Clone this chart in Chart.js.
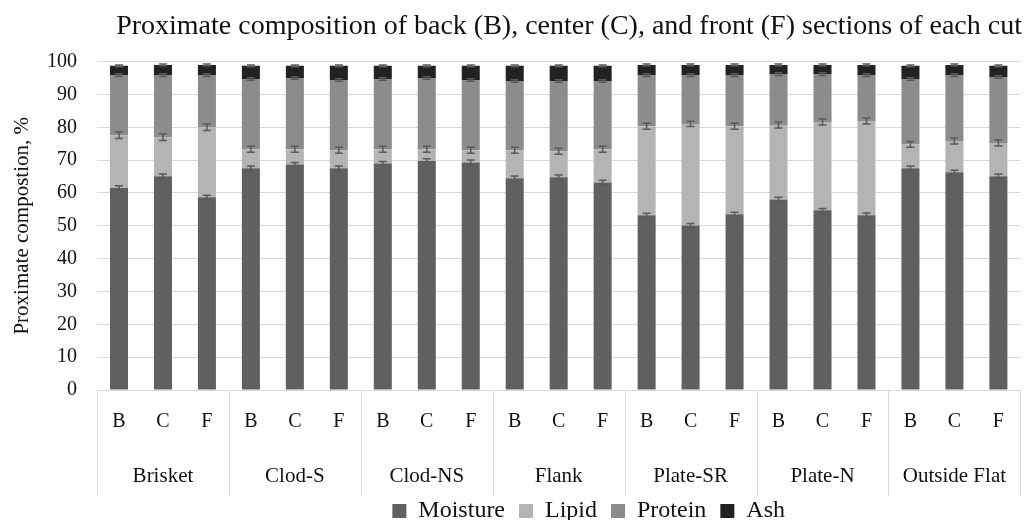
<!DOCTYPE html>
<html>
<head>
<meta charset="utf-8">
<script src="https://cdn.jsdelivr.net/npm/chart.js@4/dist/chart.umd.min.js"></script>
<style>
html,body{margin:0;padding:0;background:#fff;}
#wrap{width:1024px;height:520px;}
</style>
</head>
<body>
<div id="wrap"><canvas id="c"></canvas></div>
<script>
const sections = ['B','C','F','B','C','F','B','C','F','B','C','F','B','C','F','B','C','F','B','C','F'];
const cuts = ['Brisket','Clod-S','Clod-NS','Flank','Plate-SR','Plate-N','Outside Flat'];
const yTicks = [0,10,20,30,40,50,60,70,80,90,100];

const moisture = [61.5,65.1,58.7, 67.5,68.7,67.5, 69.0,69.7,69.3, 64.5,64.8,63.2, 53.2,50.1,53.5, 58.0,54.7,53.2, 67.5,66.3,65.1];
const lipid    = [16.1,11.9,21.3, 5.8,4.6,5.5, 4.3,3.6,3.7, 8.5,7.9,10.1, 27.1,30.9,26.8, 22.7,26.9,28.7, 7.3,9.5,10.1];
const protein  = [18.3,18.9,15.9, 21.4,21.7,21.4, 21.4,21.7,21.4, 21.1,21.4,20.8, 15.6,14.9,15.6, 15.5,14.6,14.0, 19.9,20.1,20.1];
const ash      = [2.8,3.1,3.1, 4.0,3.7,4.3, 4.0,3.7,4.3, 4.6,4.6,4.6, 3.1,3.1,3.1, 2.8,2.8,3.1, 4.0,3.1,3.4];

const moistureErr = [0.7,0.7,0.6, 0.7,0.6,0.7, 0.6,0.7,0.7, 0.7,0.7,0.7, 0.6,0.6,0.6, 0.7,0.6,0.7, 0.7,0.6,0.7];
const lipidErr    = [1.0,1.0,1.0, 0.9,0.9,0.9, 0.9,0.9,0.9, 0.9,0.9,0.9, 0.9,0.8,0.9, 0.9,0.9,0.9, 0.9,0.9,0.9];
const proteinErr  = [0.4,0.4,0.4, 0.4,0.4,0.4, 0.4,0.4,0.4, 0.4,0.4,0.4, 0.4,0.4,0.4, 0.4,0.4,0.4, 0.4,0.4,0.4];
const ashErr      = [0.3,0.3,0.3, 0.3,0.3,0.3, 0.3,0.3,0.3, 0.3,0.3,0.3, 0.3,0.3,0.3, 0.3,0.3,0.3, 0.3,0.3,0.3];

const seriesNames = ['Moisture','Lipid','Protein','Ash'];
const seriesColors = ['#606060','#b4b4b4','#8c8c8c','#222222'];
const seriesData = [moisture, lipid, protein, ash];
const seriesErr = [moistureErr, lipidErr, proteinErr, ashErr];

const SERIF = '"Liberation Serif", "Times New Roman", serif';

const errorBars = {
  id: 'errorBars',
  afterDatasetsDraw(chart) {
    const ctx = chart.ctx;
    const y = chart.scales.y;
    ctx.save();
    ctx.strokeStyle = '#5a5a5a';
    ctx.lineWidth = 1.5;
    const cum = new Array(sections.length).fill(0);
    seriesData.forEach((arr, si) => {
      const meta = chart.getDatasetMeta(si);
      arr.forEach((v, j) => {
        cum[j] += v;
        const x = meta.data[j].x;
        const e = seriesErr[si][j];
        const y1 = y.getPixelForValue(cum[j] + e);
        const y2 = y.getPixelForValue(cum[j] - e);
        ctx.beginPath();
        ctx.moveTo(x, y1); ctx.lineTo(x, y2);
        ctx.moveTo(x - 4, y1); ctx.lineTo(x + 4, y1);
        ctx.moveTo(x - 4, y2); ctx.lineTo(x + 4, y2);
        ctx.stroke();
      });
    });
    ctx.restore();
  }
};

const groupAxis = {
  id: 'groupAxis',
  afterDraw(chart) {
    const ctx = chart.ctx;
    const xs = chart.scales.x;
    const area = chart.chartArea;
    const n = sections.length;
    const w = (xs.right - xs.left) / n;
    ctx.save();
    ctx.strokeStyle = '#d9d9d9';
    ctx.lineWidth = 1;
    for (let g = 0; g <= cuts.length; g++) {
      const xx = Math.round(xs.left + g * 3 * w) + 0.5;
      ctx.beginPath();
      ctx.moveTo(xx, area.bottom);
      ctx.lineTo(xx, area.bottom + 106);
      ctx.stroke();
    }
    ctx.fillStyle = '#111';
    ctx.font = '21px ' + SERIF;
    ctx.textAlign = 'center';
    ctx.textBaseline = 'middle';
    cuts.forEach((c, g) => {
      const cx = (xs.getPixelForValue(g * 3) + xs.getPixelForValue(g * 3 + 2)) / 2;
      ctx.fillText(c, cx, area.bottom + 86);
    });
    ctx.restore();
  }
};

const legendShift = {
  id: 'legendShift',
  afterLayout(chart) {
    const lg = chart.legend;
    if (lg) {
      lg.left += 30; lg.right += 30;
      const dy = 485 - lg.top;
      lg.top += dy; lg.bottom += dy;
    }
  }
};

new Chart(document.getElementById('c'), {
  type: 'bar',
  data: {
    labels: sections,
    datasets: seriesNames.map((name, i) => ({
      label: name,
      data: seriesData[i],
      backgroundColor: seriesColors[i],
      borderWidth: 0,
      barPercentage: 0.41,
      categoryPercentage: 1.0
    }))
  },
  options: {
    responsive: true,
    maintainAspectRatio: false,
    animation: false,
    layout: { padding: { left: 0, right: 2, top: 0, bottom: 0 } },
    plugins: {
      title: {
        display: true,
        text: 'Proximate composition of back (B), center (C), and front (F) sections of each cut',
        color: '#111',
        font: { family: SERIF, size: 28, weight: 'normal' },
        padding: { top: 10, bottom: 18 },
        align: 'end'
      },
      legend: {
        position: 'bottom',
        fullSize: false,
        labels: {
          color: '#111',
          font: { family: SERIF, size: 24 },
          boxWidth: 14,
          boxHeight: 14,
          padding: 14
        }
      },
      tooltip: { enabled: false }
    },
    scales: {
      x: {
        stacked: true,
        grid: { display: false, drawTicks: false },
        border: { display: true, color: '#d9d9d9', width: 1 },
        ticks: {
          color: '#111',
          font: { family: SERIF, size: 20 },
          padding: 20,
          maxRotation: 0,
          autoSkip: false
        },
        afterFit(s) { s.height = 82; }
      },
      y: {
        stacked: true,
        min: 0,
        max: 100,
        afterBuildTicks(s) { s.ticks = yTicks.map(v => ({ value: v })); },
        grid: { color: '#d9d9d9', lineWidth: 1, drawTicks: false },
        border: { display: false },
        ticks: {
          color: '#111',
          font: { family: SERIF, size: 20 },
          padding: 20
        },
        title: {
          display: true,
          text: 'Proximate compostion, %',
          color: '#111',
          font: { family: SERIF, size: 21 },
          padding: { top: 10, bottom: 0 }
        },
        afterFit(s) { s.width = 97; }
      }
    }
  },
  plugins: [errorBars, groupAxis, legendShift]
});
</script>
</body>
</html>
